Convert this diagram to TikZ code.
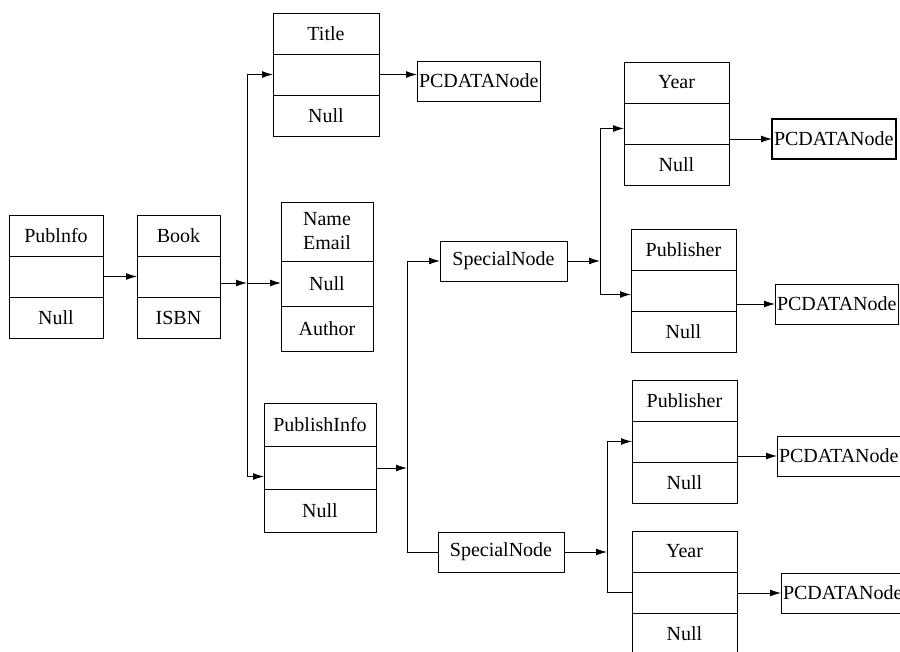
\documentclass[tikz,border=0pt]{standalone}
\usepackage{fontspec}
\setmainfont{Liberation Serif}
\usetikzlibrary{positioning,arrows.meta}

\tikzset{
  cell/.style = {draw, line width=1pt, outer sep=0pt, inner sep=0pt,
    minimum height=41pt, align=center},
  cellhead/.style = {},
  leaf/.style = {draw, line width=1pt, outer sep=0pt, inner xsep=2pt,
    minimum height=40pt, anchor=north west},
  link/.style = {line width=1pt, -{Latex[length=11pt,width=7pt]}},
  wire/.style = {line width=1pt}
}
% a record of three stacked cells: name-a, name-b, name-c
\newcommand\record[6][]{%
  \node[cell,#1,cellhead,anchor=north west] (#2-a) at (#3) {#4};
  \node[cell,#1,below=0pt of #2-a] (#2-b) {#5};
  \node[cell,#1,below=0pt of #2-b] (#2-c) {#6};}

\begin{document}
\begin{tikzpicture}[x=1pt, y=-1pt,
  every node/.style = {font=\fontsize{20}{24}\selectfont}]
  \useasboundingbox (0,0) rectangle (900,651);

  % records
  \record[minimum width=94pt]{pub}{9,215}{Publnfo}{}{Null}
  \record[minimum width=83pt]{book}{137,215}{Book}{}{ISBN}
  \record[minimum width=106pt]{title}{273,13}{Title}{}{Null}
  \record[minimum width=92pt, minimum height=45pt,
    cellhead/.style={minimum height=59pt}]{auth}{281,202}{Name\\Email}{Null}{Author}
  \record[minimum width=112pt, minimum height=43pt]{pinfo}{264,403}{PublishInfo}{}{Null}
  \record[minimum width=105pt]{year1}{624,62}{Year}{}{Null}
  \record[minimum width=105pt]{publ1}{631,229}{Publisher}{}{Null}
  \record[minimum width=105pt]{publ2}{632,380}{Publisher}{}{Null}
  \record[minimum width=105pt]{year2}{632,531}{Year}{}{Null}

  % single boxes
  \node[leaf, minimum width=127pt] (spec1) at (440,241) {SpecialNode};
  \node[leaf, minimum width=126pt] (spec2) at (438,532) {SpecialNode};
  \node[leaf] (pcd1) at (417,61) {PCDATANode};
  \node[leaf, line width=2pt] (pcd2) at (772,119) {PCDATANode};
  \node[leaf] (pcd3) at (775,284) {PCDATANode};
  \node[leaf] (pcd4) at (777,436) {PCDATANode};
  \node[leaf] (pcd5) at (781,573) {PCDATANode};

  % junctions on the buses
  \coordinate (j1) at (247,283);
  \coordinate (j2) at (407,468);
  \coordinate (j3) at (600,261);
  \coordinate (j4) at (607,552);

  % connectors
  \draw[link] (pub-b) -- (book-b);
  \draw[link] (book-b.east |- j1) -- (j1);
  \draw[link] (j1) -- (j1 -| auth-b.west);
  \draw[link] (j1) |- (title-b);
  \draw[link] (j1) |- ([yshift=-9pt]pinfo-b.west);
  \draw[link] (title-b) -- (title-b -| pcd1.west);

  \draw[link] (pinfo-b.east |- j2) -- (j2);
  \draw[link] (j2) |- (spec1);
  \draw[wire] (j2) |- (spec2);

  \draw[link] (spec1) -- (j3);
  \draw[link] (j3) |- ([yshift=-5pt]year1-b.west);
  \draw[link] (j3) |- ([yshift=-4pt]publ1-b.west);
  \draw[link] (year1-b.east |- pcd2) -- (pcd2);
  \draw[link] (publ1-b.east |- pcd3) -- (pcd3);

  \draw[link] (spec2) -- (j4);
  \draw[link] (j4) |- (publ2-b);
  \draw[wire] (j4) |- (year2-b);
  \draw[link] (publ2-b.east |- pcd4) -- (pcd4);
  \draw[link] (year2-b.east |- pcd5) -- (pcd5);
\end{tikzpicture}
\end{document}
